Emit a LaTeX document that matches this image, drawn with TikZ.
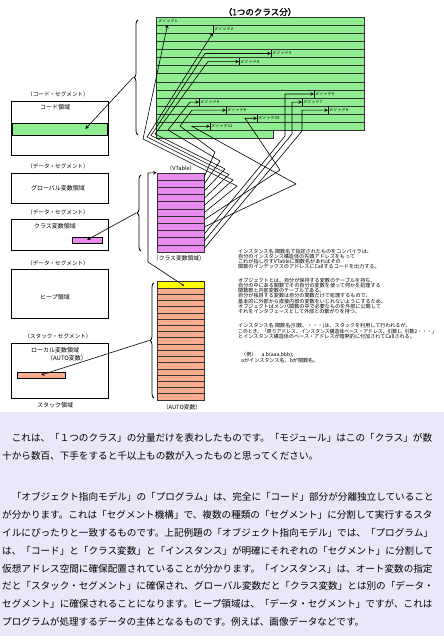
\documentclass[tikz,border=0pt]{standalone}
\usepackage{fontspec}
\setmainfont[AutoFakeBold=1.5]{Noto Sans CJK JP}
\usepackage{tikz}
\usetikzlibrary{arrows, positioning, decorations.pathreplacing}
\definecolor{codegreen}{RGB}{144,238,144}
\definecolor{vtpink}{RGB}{234,140,238}
\definecolor{autosalmon}{RGB}{250,172,140}
\definecolor{autoyellow}{RGB}{255,255,0}
\definecolor{notebg}{RGB}{232,232,248}

\begin{document}
\begin{tikzpicture}[x=1pt, y=-1pt,
    segtitle/.style={font=\fontsize{5.6}{6}\selectfont, inner sep=0pt},
    segbox/.style={draw, line width=0.6pt, minimum width=97pt, inner sep=0pt},
    areaname/.style={font=\fontsize{6}{7}\selectfont, inner sep=0pt},
    greenrow/.style={draw=black!80, line width=0.6pt, fill=codegreen, minimum height=8.1pt, inner sep=0pt},
    vrow/.style={draw=black!80, line width=0.6pt, fill=vtpink, minimum width=47pt, minimum height=7.18pt, inner sep=0pt},
    arow/.style={draw=black!80, line width=0.6pt, fill=autosalmon, minimum width=47pt, minimum height=6.22pt, inner sep=0pt},
    segbar/.style={draw, line width=0.6pt, minimum height=6pt, inner sep=0pt},
    mth/.style={anchor=west, font=\fontsize{4.2}{5}\selectfont, inner sep=0.8pt, minimum height=7pt},
    link/.style={draw, line width=0.6pt, ->, >=stealth},
    wire/.style={draw, line width=0.6pt},
    lbrace/.style={draw, line width=0.8pt, decorate, decoration={brace, amplitude=4pt}},
    note/.style={anchor=north west, align=left, inner sep=0pt, font=\fontsize{5.1}{5.15}\selectfont},
    body/.style={anchor=north west, align=left, inner sep=0pt, font=\fontsize{9.6}{17.9}\selectfont}
]
    \useasboundingbox (0,0) rectangle (444,640);
    \fill[white] (0,0) rectangle (444,640);
    \fill[notebg] (0,412) rectangle (444,636);

    % One class: method table
    \node[font=\fontsize{8.5}{9}\selectfont\bfseries, inner sep=0pt] (title) at (260,12) {（1つのクラス分）};
    \foreach \i in {1,...,14}
        \node[greenrow, minimum width=208pt] (g\i) at (260, 17+8.1*\i-4.05) {};
    \node[greenrow, minimum width=117pt] (g15) at (214.5,134.45) {};

    \node[mth] (m1) at (157,21.05) {メソッド1};
    \node[mth] (m2) at (213,29.15) {メソッド2};
    \node[mth] (m3) at (271,53.45) {メソッド3};
    \node[mth] (m4) at (239,61.55) {メソッド4};
    \node[mth] (m5) at (314,93.95) {メソッド5};
    \node[mth] (m6) at (199,102.05) {メソッド6};
    \node[mth] (m7) at (302,102.05) {メソッド7};
    \node[mth] (m8) at (226,110.15) {メソッド8};
    \node[mth] (m9) at (328,110.15) {メソッド9};
    \node[mth] (m10) at (257,118.25) {メソッド10};
    \node[mth] (m11) at (210,126.35) {メソッド11};
    \foreach \k in {2,...,11}
        \draw[wire] (m\k.north west) -- (m\k.south west);

    % VTable and AUTO area
    \node[segtitle] (vtname) at (181,168) {（VTable）};
    \foreach \i in {1,...,11}
        \node[vrow] (v\i) at (180.5, 173+7.18*\i-3.59) {};
    \node[segtitle, font=\fontsize{5.8}{6}\selectfont] (cvname) at (179,258) {（クラス変数領域）};

    \node[arow, fill=autoyellow, minimum height=7pt] (a0) at (180.5,284.5) {};
    \foreach \i in {1,...,18}
        \node[arow] (a\i) at (180.5, 288+6.22*\i-3.11) {};
    \node[segtitle, font=\fontsize{5.8}{6}\selectfont] (autoname) at (182,407) {（AUTO変数）};

    % Segments on the left
    \node[segtitle] (codeseg) at (58,94) {（コード・セグメント）};
    \node[segbox, minimum height=54pt] (codebox) at (59.5,128) {};
    \node[areaname] (codename) at (55,107) {コード領域};
    \node[segbar, fill=codegreen, minimum width=95pt, minimum height=12pt] (codebar) at (59.5,129) {};

    \node[segtitle] (dataseg1) at (58,166) {（データ・セグメント）};
    \node[segbox, minimum height=30pt] (globox) at (59.5,188) {};
    \node[areaname] (gloname) at (58,188) {グローバル変数領域};

    \node[segtitle] (dataseg2) at (58,212) {（データ・セグメント）};
    \node[segbox, minimum height=31pt] (clsbox) at (59.5,234.5) {};
    \node[areaname] (clsname) at (55,226) {クラス変数領域};
    \node[segbar, fill=vtpink, minimum width=30pt] (clsbar) at (87,240) {};

    \node[segtitle] (dataseg3) at (58,263) {（データ・セグメント）};
    \node[segbox, minimum height=49pt] (heapbox) at (59.5,293.5) {};
    \node[areaname] (heapname) at (55,297) {ヒープ領域};

    \node[segtitle] (stackseg) at (58,336) {（スタック・セグメント）};
    \node[segbox, minimum height=55pt] (stackbox) at (59.5,370.5) {};
    \node[areaname] (localname) at (55,350) {ローカル変数領域};
    \node[areaname] (autoarea) at (67,358) {（AUTO変数）};
    \node[segbar, fill=autosalmon, minimum width=48pt] (stackbar) at (41,375) {};
    \node[areaname] (stackname) at (55,405) {スタック領域};

    % Braces and pointers to the segments
    \draw[lbrace] (138,135) -- (138,20);
    \coordinate (gtip) at (133,77.5);
    \draw[link] (gtip) -- ([xshift=-22pt]codebar.east);
    \draw[lbrace] (141,251) -- (141,175);
    \coordinate (vtip) at (136,213);
    \draw[link] (vtip) -- (clsbar.center);
    \draw[lbrace] (154,398) -- (154,283);
    \coordinate (atip) at (149,340.5);
    \draw[link] (atip) -- (stackbar.center);

    % Instance head points to the VTable
    \coordinate (ptr) at (183,285);
    \fill (ptr) circle (1pt);
    \draw[link] (ptr) -- (148,262) -- (148,173) -- (v1.north west);

    % VTable entries to methods
    \draw[link] (v6.east) -- (237,186) -- (143,139) -- (m1.south);
    \draw[link] (v5.east) -- (233,180) -- (147,137) -- (m2.south west);
    \draw[link] (v4.east) -- (229,174.5) -- (151,135.5) -- (205,53.45) -- (m3.west);
    \draw[link] (v3.east) -- (225,169) -- (155,134) -- (208,61.55) -- (m4.west);
    \draw[link] (v2.east) -- (220,161) -- (168,130) -- (190,102.05) -- (m6.west);
    \draw[link] (v1.east) -- (215,152) -- (180,126) -- (192,110.15) -- (m8.west);
    \draw[link] (v8.east) -- (296,184) -- (192,126.35) -- (m11.west);
    \draw[link] (v7.east) -- (280,170) -- (245,118.25) -- (m10.west);
    \draw[link] (v9.east) -- (285,136) -- (285,93.95) -- (m5.west);
    \draw[link] (v10.east) -- (292,134) -- (292,102.05) -- (m7.west);
    \draw[link] (v11.east) -- (302,131) -- (302,110.15) -- (m9.west);

    % Notes on the right
    \node[note] (notes) at (238,248.5) {インスタンス名.関数名で指定されたものをコンパイラは、\\
        自分のインスタンス構造体の先頭アドレスをもって\\
        これが指し示すVTableに関数名があればその\\
        関数のインデックスのアドレスにCallするコードを出力する。\\[8.8pt]
        オブジェクトとは、自分が保持する変数のテーブルを持ち、\\
        自分の中にある関数でその自分の変数を使って何かを処理する\\
        関数群と内部変数のテーブルである。\\
        自分が独自する変数は自分の関数だけで処理するもので、\\
        基本的に外部から直接内部の変数をいじれないようにするため、\\
        オブジェクトはメンバ関数の中で必要なものを外部に公開して\\
        それをインタフェースとして外部との繋がりを持つ。\\[8.8pt]
        インスタンス名.関数名(引数、・・・)は、スタックを利用して行われるが、\\
        \scalebox{0.95}[1]{このとき、「戻りアドレス、インスタンス構造体ベース・アドレス、引数1、引数2・・・」}\\
        とインスタンス構造体のベース・アドレスが暗黙的に付加されてCallされる。\\[12.8pt]
        \hspace*{3pt}（例）　a.b(aaa,bbb);\\
        \hspace*{3pt}aがインスタンス名、bが関数名。};

    % Explanation below
    \node[body] (para1) at (2,433) {　これは、「１つのクラス」の分量だけを表わしたものです。「モジュール」はこの「クラス」が数\\
        十から数百、下手をすると千以上もの数が入ったものと思ってください。};
    \node[body] (para2) at (2,492) {　「オブジェクト指向モデル」の「プログラム」は、完全に「コード」部分が分離独立していること\\
        が分かります。これは「セグメント機構」で、複数の種類の「セグメント」に分割して実行するスタ\\
        イルにぴったりと一致するものです。上記例題の「オブジェクト指向モデル」では、「プログラム」\\
        は、「コード」と「クラス変数」と「インスタンス」が明確にそれぞれの「セグメント」に分割して\\
        仮想アドレス空間に確保配置されていることが分かります。「インスタンス」は、オート変数の指定\\
        だと「スタック・セグメント」に確保され、グローバル変数だと「クラス変数」とは別の「データ・\\
        セグメント」に確保されることになります。ヒープ領域は、「データ・セグメント」ですが、これは\\
        プログラムが処理するデータの主体となるものです。例えば、画像データなどです。};
\end{tikzpicture}
\end{document}
